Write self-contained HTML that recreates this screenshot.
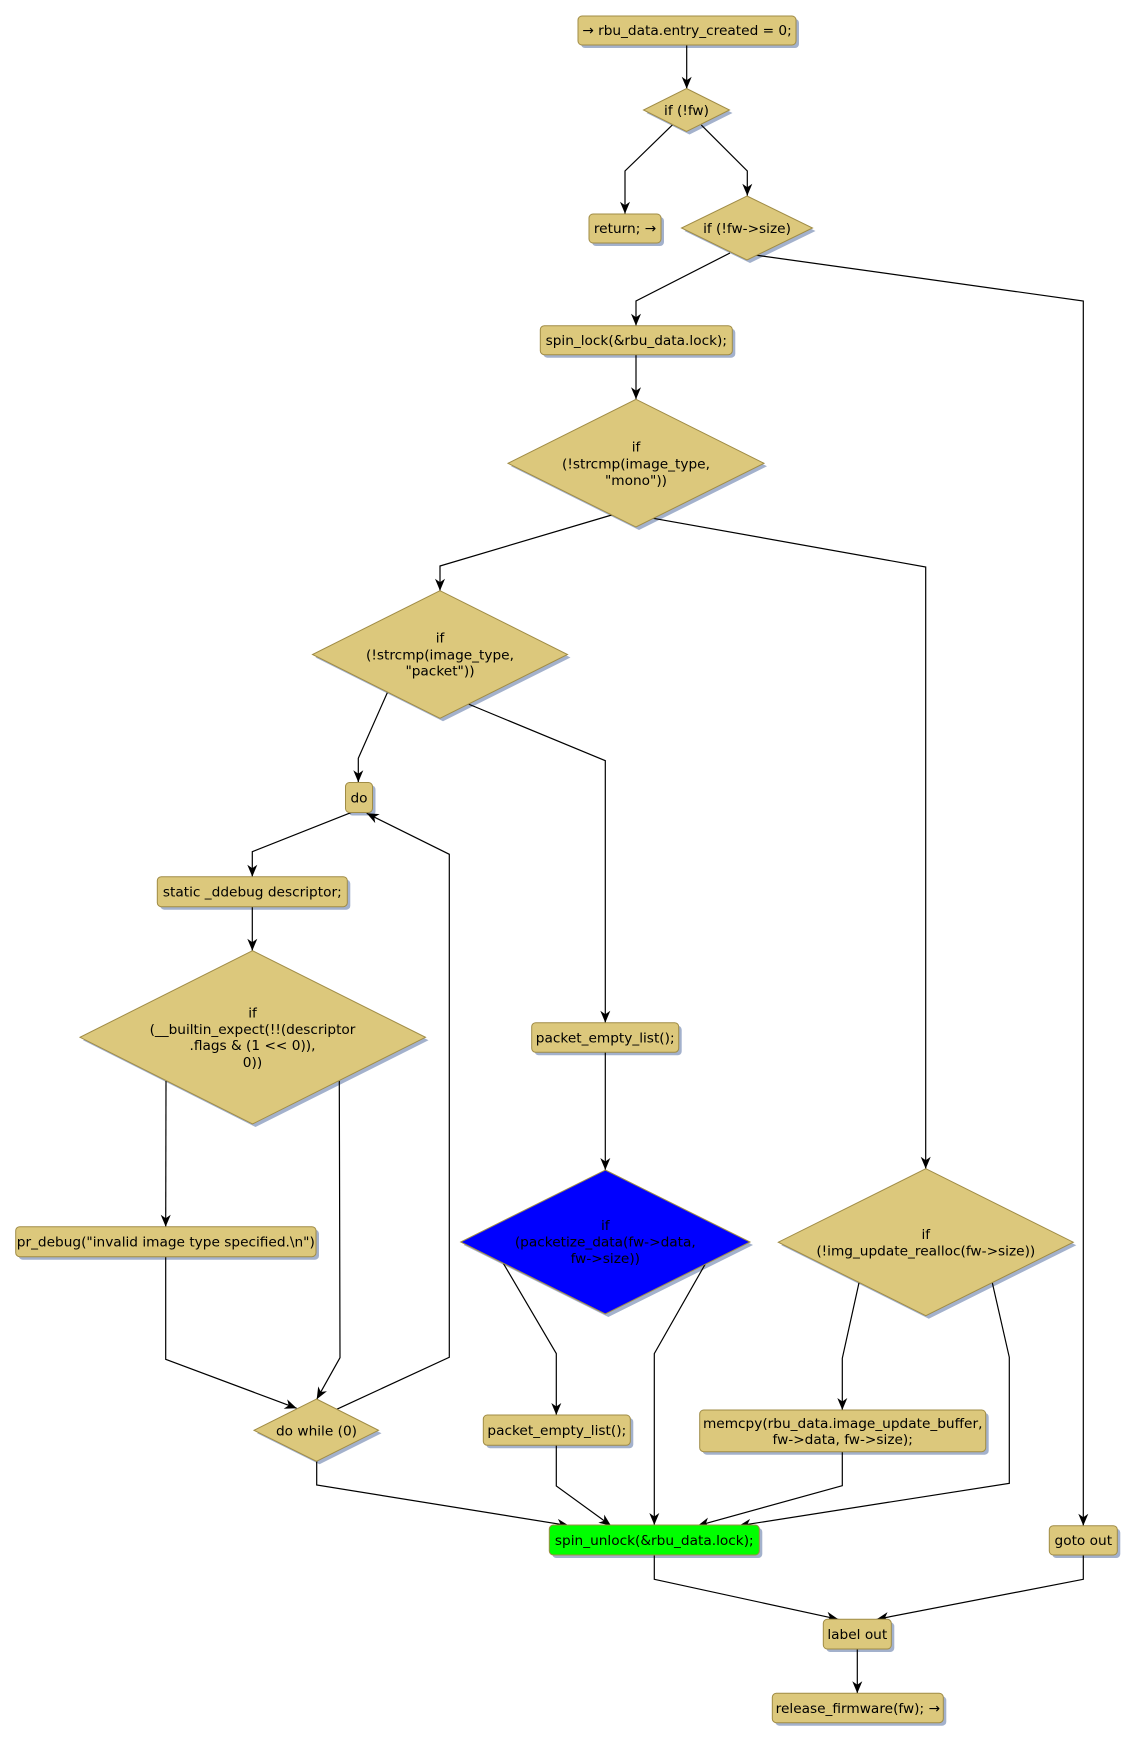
<!DOCTYPE html>
<html>
<head>
<meta charset="utf-8">
<style>
html,body{margin:0;padding:0;background:#ffffff;}
svg{display:block;}
text{font-family:"DejaVu Sans","Liberation Sans",sans-serif;font-size:13.7px;fill:#000;text-anchor:middle;}
</style>
</head>
<body>
<svg width="1136" height="1742" viewBox="0 0 1136 1742" xmlns="http://www.w3.org/2000/svg">
<defs>
<marker id="ah" markerUnits="userSpaceOnUse" markerWidth="14" markerHeight="12" viewBox="-1 -6 14 12" refX="12" refY="0" orient="auto">
<path d="M0,-5 L12,0 L0,5 L3.5,0 z" fill="#000"/>
</marker>
</defs>
<rect width="1136" height="1742" fill="#fff"/>

<!-- shadows -->
<g fill="#a3b1cc" stroke="none">
<rect x="581" y="19" width="218" height="29" rx="4"/>
<polygon points="689.5,91.5 732.5,113 689.5,134.5 646.5,113"/>
<rect x="592" y="217" width="72" height="29" rx="4"/>
<polygon points="750,199 815.5,231 750,263 684.5,231"/>
<rect x="543.3" y="328.7" width="192" height="29" rx="4"/>
<polygon points="639,402.3 767,466.3 639,530 511,466.3"/>
<polygon points="443,593.7 570.5,657.5 443,721.3 315.5,657.5"/>
<rect x="348.5" y="785.5" width="27" height="30" rx="4"/>
<rect x="160.3" y="879.7" width="190" height="30" rx="4"/>
<polygon points="255.5,953.7 428.5,1040.3 255.5,1127 83,1040.3"/>
<rect x="18.7" y="1229.7" width="300.3" height="30" rx="4"/>
<polygon points="319.5,1402 381.5,1433.3 319.5,1464.3 257,1433.3"/>
<rect x="534.7" y="1025.7" width="147" height="29.6" rx="4"/>
<polygon points="608.3,1173 753,1245 608.3,1317 463.7,1245"/>
<polygon points="928.8,1171.7 1076.3,1245.2 928.8,1318.7 781.3,1245.2"/>
<rect x="486.3" y="1418" width="147" height="30.3" rx="4"/>
<rect x="702.7" y="1413" width="286" height="41.7" rx="4"/>
<rect x="552.3" y="1528" width="210" height="30" rx="4"/>
<rect x="1052.3" y="1528.7" width="68" height="29.3" rx="4"/>
<rect x="826.3" y="1622.3" width="68" height="29.7" rx="4"/>
<rect x="775.3" y="1696.3" width="171" height="29.4" rx="4"/>
</g>

<!-- edges -->
<g fill="none" stroke="#000" stroke-width="1.2">
<polyline points="686.7,45 686.7,88.7" marker-end="url(#ah)"/>
<polyline points="672.3,125 625,171 625,213.7" marker-end="url(#ah)"/>
<polyline points="701.3,125 747.3,171 747.3,195.7" marker-end="url(#ah)"/>
<polyline points="730,253 636,301 636,325.7" marker-end="url(#ah)"/>
<polyline points="755,255 1083.3,301 1083.3,1525.7" marker-end="url(#ah)"/>
<polyline points="636,354.3 636,399.3" marker-end="url(#ah)"/>
<polyline points="611.7,515 440,566 440,590.7" marker-end="url(#ah)"/>
<polyline points="653.3,518.3 925.7,567 925.7,1168.7" marker-end="url(#ah)"/>
<polyline points="387.3,692.7 358.3,758.3 358.3,782.3" marker-end="url(#ah)"/>
<polyline points="468.3,704 605.3,760.7 605.3,1022.7" marker-end="url(#ah)"/>
<polyline points="351.7,812.3 252.3,851.7 252.3,876.7" marker-end="url(#ah)"/>
<polyline points="252.3,906.7 252.3,950.7" marker-end="url(#ah)"/>
<polyline points="166,1081 165.7,1226.7" marker-end="url(#ah)"/>
<polyline points="339.3,1081 340,1357.7 316.7,1399.3" marker-end="url(#ah)"/>
<polyline points="165.7,1256.7 165.7,1359.3 296.7,1408.3" marker-end="url(#ah)"/>
<polyline points="336.7,1409.3 449.3,1357.3 449.3,854.3 366.7,813.3" marker-end="url(#ah)"/>
<polyline points="316.7,1461 316.7,1485 569,1525.7" marker-end="url(#ah)"/>
<polyline points="605.3,1052.3 605.3,1170" marker-end="url(#ah)"/>
<polyline points="503.3,1263.3 556.3,1353.6 556.3,1415" marker-end="url(#ah)"/>
<polyline points="705.7,1263.3 654.3,1353.6 654.3,1525" marker-end="url(#ah)"/>
<polyline points="556.3,1445.3 556.3,1486 611,1525.7" marker-end="url(#ah)"/>
<polyline points="859,1282.7 842.3,1358.3 842.3,1410" marker-end="url(#ah)"/>
<polyline points="992.3,1282.7 1009.3,1357.3 1009.3,1483.3 739,1525.7" marker-end="url(#ah)"/>
<polyline points="842.3,1451.7 842.3,1485.7 697.7,1525.7" marker-end="url(#ah)"/>
<polyline points="654.3,1555 654.3,1579.3 838.3,1619.3" marker-end="url(#ah)"/>
<polyline points="1083.3,1555 1083.3,1579.3 876.7,1619.3" marker-end="url(#ah)"/>
<polyline points="857.3,1649 857.3,1693.3" marker-end="url(#ah)"/>
</g>

<!-- nodes -->
<g fill="#dcc87c" stroke="#a08c46" stroke-width="1">
<rect x="578" y="16" width="218" height="29" rx="4"/>
<polygon points="686.5,88.5 729.5,110 686.5,131.5 643.5,110"/>
<rect x="589" y="214" width="72" height="29" rx="4"/>
<polygon points="747,196 812.5,228 747,260 681.5,228"/>
<rect x="540.3" y="325.7" width="192" height="29" rx="4"/>
<polygon points="636,399.3 764,463.3 636,527 508,463.3"/>
<polygon points="440,590.7 567.5,654.5 440,718.3 312.5,654.5"/>
<rect x="345.5" y="782.5" width="27" height="30" rx="4"/>
<rect x="157.3" y="876.7" width="190" height="30" rx="4"/>
<polygon points="252.5,950.7 425.5,1037.3 252.5,1124 80,1037.3"/>
<rect x="15.7" y="1226.7" width="300.3" height="30" rx="4"/>
<polygon points="316.5,1399 378.5,1430.3 316.5,1461.3 254,1430.3"/>
<rect x="531.7" y="1022.7" width="147" height="29.6" rx="4"/>
<polygon points="605.3,1170 750,1242 605.3,1314 460.7,1242" fill="#0000ff"/>
<polygon points="925.8,1168.7 1073.3,1242.2 925.8,1315.7 778.3,1242.2"/>
<rect x="483.3" y="1415" width="147" height="30.3" rx="4"/>
<rect x="699.7" y="1410" width="286" height="41.7" rx="4"/>
<rect x="549.3" y="1525" width="210" height="30" rx="4" fill="#00ff00"/>
<rect x="1049.3" y="1525.7" width="68" height="29.3" rx="4"/>
<rect x="823.3" y="1619.3" width="68" height="29.7" rx="4"/>
<rect x="772.3" y="1693.3" width="171" height="29.4" rx="4"/>
</g>

<!-- labels -->
<text x="687" y="35.2">→ rbu_data.entry_created = 0;</text>
<text x="686.5" y="114.8">if (!fw)</text>
<text x="625" y="233.2">return; →</text>
<text x="747" y="232.8">if (!fw-&gt;size)</text>
<text x="636.3" y="344.8">spin_lock(&amp;rbu_data.lock);</text>
<text x="636" y="451.5">if</text>
<text x="636" y="468.3">(!strcmp(image_type,</text>
<text x="636" y="484.8">"mono"))</text>
<text x="440" y="642.5">if</text>
<text x="440" y="659.3">(!strcmp(image_type,</text>
<text x="440" y="675.5">"packet"))</text>
<text x="359" y="802.3">do</text>
<text x="252.3" y="896.5">static _ddebug descriptor;</text>
<text x="252.5" y="1017.5">if</text>
<text x="252.5" y="1033.8">(__builtin_expect(!!(descriptor</text>
<text x="252.5" y="1050.1">.flags &amp; (1 &lt;&lt; 0)),</text>
<text x="252.5" y="1066.8">0))</text>
<text x="165.8" y="1246.5">pr_debug("invalid image type specified.\n")</text>
<text x="316.5" y="1435.3">do while (0)</text>
<text x="605.2" y="1042.3">packet_empty_list();</text>
<text x="605.3" y="1230.1">if</text>
<text x="605.3" y="1246.5">(packetize_data(fw-&gt;data,</text>
<text x="605.3" y="1262.8">fw-&gt;size))</text>
<text x="925.8" y="1238.8">if</text>
<text x="925.8" y="1255.5">(!img_update_realloc(fw-&gt;size))</text>
<text x="556.8" y="1435">packet_empty_list();</text>
<text x="842.7" y="1428.1">memcpy(rbu_data.image_update_buffer,</text>
<text x="842.7" y="1444.1">fw-&gt;data, fw-&gt;size);</text>
<text x="654.3" y="1544.8">spin_unlock(&amp;rbu_data.lock);</text>
<text x="1083.3" y="1545.1">goto out</text>
<text x="857.3" y="1639">label out</text>
<text x="857.8" y="1713">release_firmware(fw); →</text>
</svg>
</body>
</html>
